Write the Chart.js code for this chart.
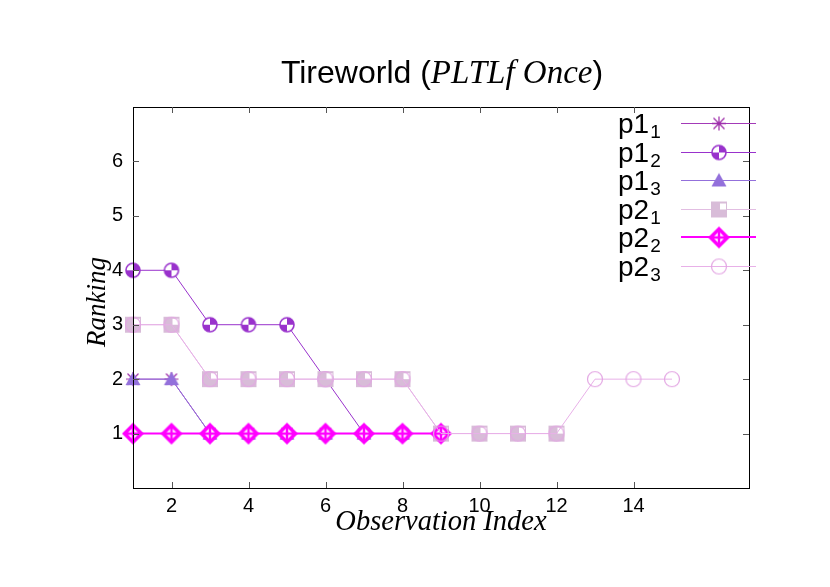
<!DOCTYPE html>
<html>
<head>
<meta charset="utf-8">
<script src="https://cdn.jsdelivr.net/npm/chart.js@4.4.1/dist/chart.umd.min.js"></script>
<style>
  html, body { margin: 0; padding: 0; background: #fff; }
  #wrap { width: 830px; height: 587px; }
</style>
</head>
<body>
<div id="wrap"><canvas id="rank" width="830" height="587"></canvas></div>
<script>
// observation index and ranking of each goal hypothesis
const obsIndex = [1, 2, 3, 4, 5, 6, 7, 8, 9, 10, 11, 12, 13, 14, 15];
const p1_1 = [2, 2, 1, 1, 1, 1];
const p1_2 = [4, 4, 3, 3, 3, 2, 1, 1];
const p1_3 = [2, 2, 1, 1, 1, 1, 1, 1];
const p2_1 = [3, 3, 2, 2, 2, 2, 2, 2, 1, 1, 1, 1];
const p2_2 = [1, 1, 1, 1, 1, 1, 1, 1, 1];
const p2_3 = [3, 3, 2, 2, 2, 2, 2, 2, 1, 1, 1, 1, 2, 2, 2];

const seriesBase = ['p1', 'p1', 'p1', 'p2', 'p2', 'p2'];
const seriesSub = ['1', '2', '3', '1', '2', '3'];
const xTicks = [2, 4, 6, 8, 10, 12, 14];
const yTicks = [1, 2, 3, 4, 5, 6];

const colors = ['#9c2aa8', '#9932cc', '#9370db', '#d8bcd8', '#ff00ff', '#e3a6e3'];
const lineColors = ['#a33ab8', '#9932cc', '#9370db', '#e2bde2', '#ff00ff', '#e8b0e8'];
const kinds = ['star', 'qcircle', 'triangle', 'square', 'diamond', 'ocircle'];

function marker(kind, color) {
  const c = document.createElement('canvas');
  c.width = 28; c.height = 28;
  const g = c.getContext('2d');
  const m = 14;
  g.strokeStyle = color;
  g.fillStyle = color;
  if (kind == 'star') {
    g.lineWidth = 1.2;
    g.beginPath();
    g.moveTo(m - 7, m); g.lineTo(m + 7, m);
    g.moveTo(m, m - 7); g.lineTo(m, m + 7);
    g.moveTo(m - 5.5, m - 5.5); g.lineTo(m + 5.5, m + 5.5);
    g.moveTo(m - 5.5, m + 5.5); g.lineTo(m + 5.5, m - 5.5);
    g.stroke();
  } else if (kind == 'qcircle') {
    g.fillStyle = '#fff';
    g.beginPath(); g.arc(m, m, 7, 0, Math.PI * 2); g.fill();
    g.fillStyle = color;
    g.beginPath(); g.moveTo(m, m); g.arc(m, m, 7, -Math.PI / 2, 0); g.closePath(); g.fill();
    g.beginPath(); g.moveTo(m, m); g.arc(m, m, 7, Math.PI / 2, Math.PI); g.closePath(); g.fill();
    g.lineWidth = 1.6;
    g.beginPath(); g.arc(m, m, 7, 0, Math.PI * 2); g.stroke();
  } else if (kind == 'triangle') {
    g.beginPath();
    g.moveTo(m, m - 7.5); g.lineTo(m + 7.5, m + 6); g.lineTo(m - 7.5, m + 6);
    g.closePath(); g.fill();
  } else if (kind == 'square') {
    g.fillRect(m - 8, m - 8, 16, 16);
    g.fillStyle = '#fff';
    g.fillRect(m + 1, m - 6, 6, 6);
  } else if (kind == 'diamond') {
    g.beginPath();
    g.moveTo(m, m - 11); g.lineTo(m + 11, m); g.lineTo(m, m + 11); g.lineTo(m - 11, m);
    g.closePath(); g.fill();
    g.fillStyle = '#fff';
    g.beginPath();
    g.moveTo(m, m - 6); g.lineTo(m + 6, m); g.lineTo(m, m + 6); g.lineTo(m - 6, m);
    g.closePath(); g.fill();
    g.lineWidth = 2.5;
    g.beginPath();
    g.moveTo(m - 7, m); g.lineTo(m + 7, m);
    g.moveTo(m, m - 7); g.lineTo(m, m + 7);
    g.stroke();
  } else {
    g.lineWidth = 1.2;
    g.beginPath(); g.arc(m, m, 7.5, 0, Math.PI * 2); g.stroke();
  }
  return c;
}

const allSeries = [p1_1, p1_2, p1_3, p2_1, p2_2, p2_3];
const markers = kinds.map((k, i) => marker(k, colors[i]));

const datasets = allSeries.map(function(vals, i) {
  return {
    label: seriesBase[i] + '_' + seriesSub[i],
    data: vals.map((v, j) => ({ x: obsIndex[j], y: v })),
    borderColor: lineColors[i],
    backgroundColor: colors[i],
    borderWidth: i == 4 ? 2 : 1,
    pointStyle: markers[i],
    pointRadius: 8,
    pointHoverRadius: 8,
    tension: 0,
    clip: false,
    order: 6 - i
  };
});

// gnuplot-like frame, inward ticks, title, axis labels and key
const decor = {
  id: 'decor',
  afterDatasetsDraw(chart) {
    const ctx = chart.ctx;
    const a = chart.chartArea;
    const xs = chart.scales.x, ys = chart.scales.y;
    ctx.save();
    ctx.strokeStyle = '#000';
    ctx.lineWidth = 1;
    ctx.strokeRect(Math.round(a.left) + 0.5, Math.round(a.top) + 0.5,
      Math.round(a.right - a.left), Math.round(a.bottom - a.top));
    ctx.strokeStyle = '#555';
    ctx.beginPath();
    xTicks.forEach(function(t) {
      const px = Math.round(xs.getPixelForValue(t)) + 0.5;
      ctx.moveTo(px, a.bottom); ctx.lineTo(px, a.bottom - 6);
      ctx.moveTo(px, a.top); ctx.lineTo(px, a.top + 6);
    });
    yTicks.forEach(function(t) {
      const py = Math.round(ys.getPixelForValue(t)) + 0.5;
      ctx.moveTo(a.left, py); ctx.lineTo(a.left + 6, py);
      ctx.moveTo(a.right, py); ctx.lineTo(a.right - 6, py);
    });
    ctx.stroke();

    // key
    chart.data.datasets.forEach(function(ds, i) {
      const y = 123 + i * 28.6;
      const off = ds.borderWidth == 1 ? 0.5 : 0;
      ctx.strokeStyle = ds.borderColor;
      ctx.lineWidth = ds.borderWidth;
      ctx.beginPath();
      ctx.moveTo(681, Math.round(y) + off);
      ctx.lineTo(756, Math.round(y) + off);
      ctx.stroke();
      ctx.drawImage(ds.pointStyle, 719 - 14, Math.round(y) - 14 + 0.5);
      ctx.fillStyle = '#000';
      ctx.textAlign = 'left';
      ctx.textBaseline = 'alphabetic';
      ctx.font = '28px "Liberation Sans"';
      ctx.fillText(seriesBase[i], 618, y + 10);
      const w = ctx.measureText(seriesBase[i]).width;
      ctx.font = '19px "Liberation Sans"';
      ctx.fillText(seriesSub[i], 618 + w + 1, y + 15);
    });
    ctx.restore();
  },
  afterDraw(chart) {
    const ctx = chart.ctx;
    ctx.save();
    ctx.fillStyle = '#000';
    ctx.textBaseline = 'alphabetic';
    // title with italic part
    const parts = [
      ['Tireworld (', '32px "Liberation Sans"'],
      ['PLTLf Once', 'italic 33px "Liberation Serif"'],
      [')', '32px "Liberation Sans"']
    ];
    let total = 0;
    parts.forEach(function(p) { ctx.font = p[1]; total += ctx.measureText(p[0]).width; });
    let x = 442 - total / 2;
    ctx.textAlign = 'left';
    parts.forEach(function(p) {
      ctx.font = p[1];
      ctx.fillText(p[0], x, 83);
      x += ctx.measureText(p[0]).width;
    });
    // axis labels
    ctx.font = 'italic 28.5px "Liberation Serif"';
    ctx.textAlign = 'center';
    ctx.fillText('Observation Index', 441, 530);
    ctx.font = 'italic 27px "Liberation Serif"';
    ctx.translate(105, 302);
    ctx.rotate(-Math.PI / 2);
    ctx.fillText('Ranking', 0, 0);
    ctx.restore();
  }
};

new Chart(document.getElementById('rank'), {
  type: 'line',
  data: { datasets: datasets },
  options: {
    responsive: false,
    devicePixelRatio: 1,
    animation: false,
    layout: { padding: { top: 107, right: 81, bottom: 0, left: 0 } },
    plugins: {
      legend: { display: false },
      tooltip: { enabled: false },
      title: { display: false }
    },
    scales: {
      x: {
        type: 'linear',
        min: 1,
        max: 17,
        afterBuildTicks: s => { s.ticks = xTicks.map(v => ({ value: v })); },
        afterFit: s => { s.height = 99; },
        grid: { display: false, drawTicks: false },
        border: { display: false },
        ticks: {
          color: '#000',
          padding: 6,
          maxRotation: 0,
          font: { family: 'Liberation Sans', size: 20 }
        }
      },
      y: {
        type: 'linear',
        min: 0,
        max: 7,
        afterBuildTicks: s => { s.ticks = yTicks.map(v => ({ value: v })); },
        afterFit: s => { s.width = 133; },
        grid: { display: false, drawTicks: false },
        border: { display: false },
        ticks: {
          color: '#000',
          padding: 10,
          font: { family: 'Liberation Sans', size: 20 }
        }
      }
    }
  },
  plugins: [decor]
});
</script>
</body>
</html>
